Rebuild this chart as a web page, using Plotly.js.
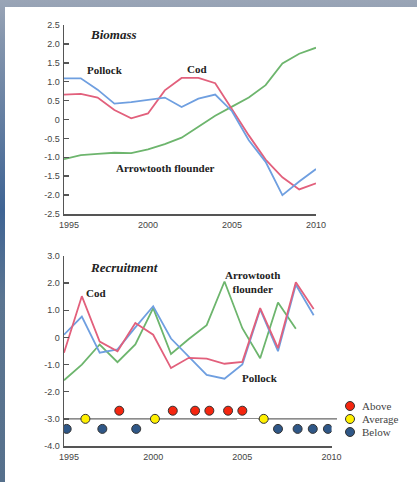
<!DOCTYPE html>
<html>
<head>
<meta charset="utf-8">
<script src="https://cdn.plot.ly/plotly-3.0.1.min.js"></script>
<style>
  html, body { margin: 0; padding: 0; }
  body {
    width: 417px; height: 482px; overflow: hidden; position: relative;
    background: linear-gradient(to bottom, #9aa5b6 0px, #8495ad 40px, #3f6494 210px, #5b7591 300px, #56708c 482px);
  }
  #chart { position: absolute; left: 5px; top: 7px; width: 412px; height: 475px; background: #fff; }
</style>
</head>
<body>
<div id="chart"></div>
<script>
// Years shared by both panels
const years = [1995, 1996, 1997, 1998, 1999, 2000, 2001, 2002, 2003, 2004, 2005, 2006, 2007, 2008, 2009, 2010];

// Biomass anomalies (standardised)
const biomassPollock    = [1.09, 1.09, 0.79, 0.42, 0.46, 0.51, 0.58, 0.33, 0.55, 0.66, 0.22, -0.55, -1.12, -2.00, -1.64, -1.31];
const biomassCod        = [0.66, 0.68, 0.58, 0.25, 0.03, 0.16, 0.77, 1.10, 1.10, 0.96, 0.27, -0.42, -1.06, -1.53, -1.85, -1.69];
const biomassArrowtooth = [-1.05, -0.94, -0.91, -0.88, -0.89, -0.79, -0.65, -0.48, -0.19, 0.10, 0.34, 0.58, 0.91, 1.48, 1.74, 1.90];

// Recruitment anomalies (cod and pollock to 2009, arrowtooth to 2008)
const recruitCod        = [-0.56, 1.52, -0.15, -0.51, 0.53, 0.10, -1.13, -0.75, -0.78, -0.97, -0.90, 1.08, -0.39, 2.03, 1.05];
const recruitPollock    = [0.10, 0.77, -0.56, -0.44, 0.37, 1.15, -0.04, -0.70, -1.38, -1.52, -1.00, 1.03, -0.51, 1.94, 0.82];
const recruitArrowtooth = [-1.58, -1.00, -0.26, -0.91, -0.26, 1.08, -0.61, -0.06, 0.45, 2.06, 0.34, -0.77, 1.29, 0.32];

// Status row under the recruitment panel
const statusYears  = [1995.15, 1996.2, 1997.15, 1998.1, 1999.05, 2000.1, 2001.1, 2002.35, 2003.15, 2004.2, 2005.0, 2006.2, 2007.0, 2008.1, 2008.95, 2009.8];
const statusLabels = ['Below', 'Average', 'Below', 'Above', 'Below', 'Average', 'Above', 'Above', 'Above', 'Above', 'Above', 'Average', 'Below', 'Below', 'Below', 'Below'];
const statusLevels = { Above: -2.7, Average: -3.0, Below: -3.37 };
const statusOrder  = ['Above', 'Average', 'Below'];

// Tick labels
const biomassTicks     = [2.5, 2.0, 1.5, 1.0, 0.5, 0, -0.5, -1.0, -1.5, -2.0, -2.5];
const biomassTickText  = ['2.5', '2.0', '1.5', '1.0', '0.5', '0', '-0.5', '-1.0', '-1.5', '-2.0', '-2.5'];
const recruitTicks     = [3, 2, 1, 0, -1, -2, -3, -4];
const recruitTickText  = ['3.0', '2.0', '1.0', '0', '-1.0', '-2.0', '-3.0', '-4.0'];
const yearTicks        = [1995, 2000, 2005, 2010];
const yearTickText     = ['\u00a0\u00a0\u00a0\u00a01995', '2000', '2005', '2010'];

// ---- styling ----
const W = 412, H = 475, OX = 5, OY = 7;
const px = x => (x - OX) / W;          // page pixel -> paper x
const py = y => 1 - (y - OY) / H;      // page pixel -> paper y

const C_POLLOCK = '#6f9fe0';
const C_COD = '#e2607c';
const C_ARROW = '#6db56d';
const STATUS_COLORS = { Above: '#f5260f', Average: '#fff000', Below: '#2f5787' };
const AXIS = '#555';
const tickFont = { family: 'Liberation Sans, Arial, sans-serif', size: 9, color: '#444' };
const labelFont = { family: 'Liberation Serif, Times New Roman, serif', size: 11, color: '#222' };

const topDomY = [py(214), py(25)];
const botDomY = [py(446), py(256)];

function line(x, y, color, xa, ya) {
  return { x, y, xaxis: xa, yaxis: ya, type: 'scatter', mode: 'lines',
           line: { color, width: 1.8 }, hoverinfo: 'skip', showlegend: false };
}

const traces = [
  line(years, biomassArrowtooth, C_ARROW, 'x', 'y'),
  line(years, biomassCod, C_COD, 'x', 'y'),
  line(years, biomassPollock, C_POLLOCK, 'x', 'y'),
  line(years.slice(0, recruitArrowtooth.length), recruitArrowtooth, C_ARROW, 'x2', 'y2'),
  line(years.slice(0, recruitPollock.length), recruitPollock, C_POLLOCK, 'x2', 'y2'),
  line(years.slice(0, recruitCod.length), recruitCod, C_COD, 'x2', 'y2')
];

statusOrder.forEach(s => {
  const xs = statusYears.filter((_, i) => statusLabels[i] === s);
  traces.push({
    x: xs, y: xs.map(() => statusLevels[s]), xaxis: 'x2', yaxis: 'y2',
    type: 'scatter', mode: 'markers', showlegend: false, hoverinfo: 'skip',
    marker: { size: 9, color: STATUS_COLORS[s], line: { color: '#333', width: 1 } }
  });
});

// key for the status row
traces.push({
  x: statusOrder.map(() => 1), y: statusOrder.map((_, i) => 2.5 - i),
  xaxis: 'x3', yaxis: 'y3', type: 'scatter', mode: 'markers',
  showlegend: false, hoverinfo: 'skip',
  marker: { size: 9, color: statusOrder.map(s => STATUS_COLORS[s]), line: { color: '#333', width: 1 } }
});

function yAxis(domain, range, tickvals, ticktext) {
  return {
    domain, range, tickvals, ticktext, tickfont: tickFont,
    showline: true, linecolor: AXIS, linewidth: 1.5,
    ticks: 'inside', ticklen: 5, tickwidth: 1.5, tickcolor: AXIS,
    showgrid: false, zeroline: false, fixedrange: true, ticklabelstandoff: 1
  };
}
function xAxis(domain, anchor) {
  return {
    domain, anchor, range: [1995, 2010], tickvals: yearTicks, ticktext: yearTickText,
    tickfont: tickFont, showline: true, linecolor: AXIS, linewidth: 1.5,
    ticks: '', showgrid: false, zeroline: false, fixedrange: true, ticklabelstandoff: 2
  };
}

const keyDomY = [py(438.5), py(399.5)];

const ann = (text, x, y, opts = {}) => Object.assign({
  text, xref: 'paper', yref: 'paper', x: px(x), y: py(y),
  xanchor: 'center', yanchor: 'middle', showarrow: false, font: labelFont
}, opts);

const annotations = [
  ann('<b><i>Biomass</i></b>', 88, 34, { xanchor: 'left', font: Object.assign({}, labelFont, { size: 13 }) }),
  ann('<b>Pollock</b>', 104.5, 70),
  ann('<b>Cod</b>', 197, 69),
  ann('<b>Arrowtooth flounder</b>', 165, 168),
  ann('<b><i>Recruitment</i></b>', 88, 267, { xanchor: 'left', font: Object.assign({}, labelFont, { size: 13 }) }),
  ann('<b>Cod</b>', 96, 293),
  ann('<b>Arrowtooth<br>flounder</b>', 253, 281.5),
  ann('<b>Pollock</b>', 259.5, 378)
];
statusOrder.forEach((s, i) => {
  annotations.push({
    text: s, xref: 'x3', yref: 'y3', x: 2.3, y: 2.5 - i, xanchor: 'left', yanchor: 'middle',
    showarrow: false, font: { family: 'Liberation Serif, Times New Roman, serif', size: 11, color: '#444' }
  });
});

const yMinus3 = botDomY[0] + (-3 - (-4)) / 7 * (botDomY[1] - botDomY[0]);

const layout = {
  width: W, height: H,
  margin: { l: 0, r: 0, t: 0, b: 0 },
  paper_bgcolor: '#ffffff', plot_bgcolor: 'rgba(0,0,0,0)',
  showlegend: false,
  xaxis: xAxis([px(64), px(316)], 'y'),
  yaxis: yAxis(topDomY, [-2.5, 2.5], biomassTicks, biomassTickText),
  xaxis2: xAxis([px(64), px(331.5)], 'y2'),
  yaxis2: yAxis(botDomY, [-4, 3], recruitTicks, recruitTickText),
  xaxis3: { domain: [px(342), px(406)], anchor: 'y3', range: [0, 8], visible: false, fixedrange: true },
  yaxis3: { domain: keyDomY, anchor: 'x3', range: [0, 3], visible: false, fixedrange: true },
  shapes: [
    { type: 'line', xref: 'paper', yref: 'paper', x0: px(64), x1: px(337), y0: yMinus3, y1: yMinus3,
      line: { color: '#666', width: 1.3 }, layer: 'below' },
    { type: 'rect', xref: 'paper', yref: 'paper', x0: px(237), x1: px(258), y0: py(433), y1: py(419),
      fillcolor: '#ffffff', line: { width: 0 }, layer: 'below' }
  ],
  annotations
};

Plotly.newPlot('chart', traces, layout, { staticPlot: true, displayModeBar: false });
</script>
</body>
</html>
